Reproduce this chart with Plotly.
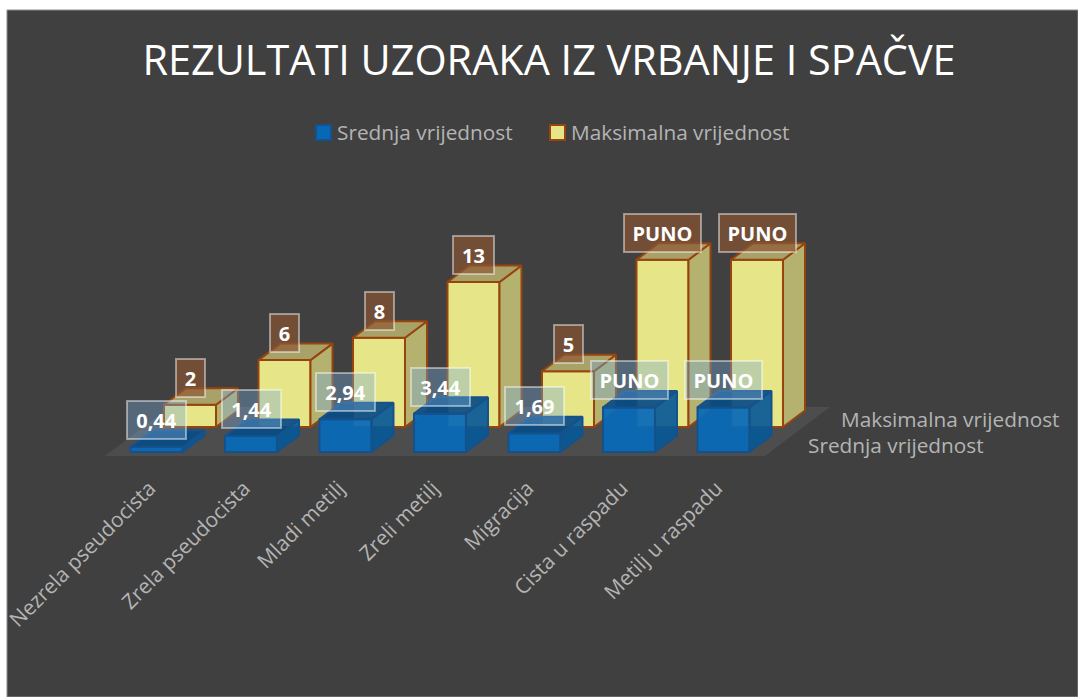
import plotly.graph_objects as go

# ── Data ─────────────────────────────────────────────────────────────────────

categories = ["Nezrela pseudocista", "Zrela pseudocista", "Mladi metilj", "Zreli metilj",
              "Migracija", "Cista u raspadu", "Metilj u raspadu"]
# "PUNO" has no number in the source, the bar heights are read off the picture
mean_values = [0.44, 1.44, 2.94, 3.44, 1.69, 4, 4]
mean_labels = ["0,44", "1,44", "2,94", "3,44", "1,69", "PUNO", "PUNO"]
max_values = [2, 6, 8, 13, 5, 15, 15]
max_labels = ["2", "6", "8", "13", "5", "PUNO", "PUNO"]

# ── Layout constants ─────────────────────────────────────────────────────────

W, H = 1078, 697
LEFT, TOP = 7, 10
PX_X = 94.5    # pixels per category
PX_Y = 11.15   # pixels per value unit
BAR_W = 0.55
DEPTH_X = 22 / PX_X
DEPTH_Y = 16.5 / PX_Y
TICK_SHIFT = -7 / PX_X
TEXT = "#b4b4b4"
FONT = "Open Sans"
YELLOW_EDGE = "#97440f"
BLUE_EDGE = "#15528c"


def x_range(px_first):
    start = -(px_first - LEFT) / PX_X
    return [start, start + (W - LEFT) / PX_X]


def y_range(px_zero):
    start = -(H - px_zero) / PX_Y
    return [start, start + (H - TOP) / PX_Y]


def paper_x(px):
    return (px - LEFT) / (W - LEFT)


def paper_y(px):
    return (H - px) / (H - TOP)


def add_series(fig, values, name, axes, front, side, top, edge):
    xa, ya = axes
    fig.add_trace(go.Bar(
        x=list(range(len(values))), y=values, width=BAR_W, name=name,
        marker=dict(color=front, line=dict(color=edge, width=2)),
        xaxis=xa, yaxis=ya, hoverinfo="y", showlegend=False,
    ))
    for i, v in enumerate(values):
        l, r = i - BAR_W / 2, i + BAR_W / 2
        faces = [
            ([r, r + DEPTH_X, r + DEPTH_X, r, r], [0, DEPTH_Y, v + DEPTH_Y, v, 0], side),
            ([l, l + DEPTH_X, r + DEPTH_X, r, l], [v, v + DEPTH_Y, v + DEPTH_Y, v, v], top),
        ]
        for xs, ys, color in faces:
            fig.add_trace(go.Scatter(
                x=xs, y=ys, mode="lines", fill="toself", fillcolor=color,
                line=dict(color=edge, width=2), xaxis=xa, yaxis=ya,
                showlegend=False, hoverinfo="skip",
            ))


def add_label(fig, x, y, axes, label, width, bgcolor):
    fig.add_annotation(x=x, y=y, xref=axes[0], yref=axes[1], yshift=27, text=f"<b>{label}</b>",
                       showarrow=False, font=dict(family=FONT, size=20, color="white"),
                       width=width, height=36, bgcolor=bgcolor,
                       bordercolor="rgba(255,255,255,0.45)", borderwidth=2, borderpad=0)


def add_text(fig, px, py, text):
    fig.add_annotation(x=paper_x(px), y=paper_y(py), xref="paper", yref="paper",
                       xanchor="left", yanchor="middle", text=text, showarrow=False,
                       font=dict(family=FONT, size=20.8, color=TEXT))


fig = go.Figure()

# floor goes below the traces, else it hides the back row
fx = [paper_x(p) for p in (105, 765, 830, 170)]
fy = [paper_y(p) for p in (456, 456, 407, 407)]
fig.add_shape(type="path", xref="paper", yref="paper", layer="below",
              path=f"M{fx[0]},{fy[0]} L{fx[1]},{fy[1]} L{fx[2]},{fy[2]} L{fx[3]},{fy[3]} Z",
              fillcolor="#4e4d4d", line=dict(width=0))

add_series(fig, max_values, "Maksimalna vrijednost", ("x", "y"),
           "#e6e688", "#b5b270", "#a8a268", YELLOW_EDGE)
add_series(fig, mean_values, "Srednja vrijednost", ("x2", "y2"),
           "rgba(8,106,184,0.94)", "rgba(8,88,150,0.92)", "rgba(8,76,134,0.92)", BLUE_EDGE)

# ── Value labels ─────────────────────────────────────────────────────────────

for i, (v, label) in enumerate(zip(max_values, max_labels)):
    width = 75 if label == "PUNO" else 39 if len(label) == 2 else 27
    add_label(fig, i, v, ("x", "y"), label, width, "rgba(140,85,50,0.68)")
for i, (v, label) in enumerate(zip(mean_values, mean_labels)):
    width = 75 if label == "PUNO" else 57
    add_label(fig, i, v, ("x2", "y2"), label, width, "rgba(120,170,215,0.38)")

# ── Depth axis labels and legend ─────────────────────────────────────────────

add_text(fig, 839, 419, "Maksimalna vrijednost")
add_text(fig, 806, 445, "Srednja vrijednost")

# plotly's own legend leaves a wide gap after the swatch, so it is drawn by hand
add_text(fig, 335, 132, "Srednja vrijednost")
add_text(fig, 569, 132, "Maksimalna vrijednost")
for px, fill, edge in [(316, "#0868b4", BLUE_EDGE), (550, "#e6e688", YELLOW_EDGE)]:
    fig.add_shape(type="rect", xref="paper", yref="paper",
                  x0=paper_x(px), x1=paper_x(px + 15), y0=paper_y(140), y1=paper_y(125),
                  fillcolor=fill, line=dict(color=edge, width=2))

fig.add_shape(type="rect", xref="paper", yref="paper", x0=0, x1=1, y0=0, y1=1,
              line=dict(color="#8c8c8c", width=1), fillcolor="rgba(0,0,0,0)")

hidden = dict(visible=False)
fig.update_layout(
    width=W, height=H,
    margin=dict(l=LEFT, t=TOP, r=0, b=0, pad=0),
    paper_bgcolor="white", plot_bgcolor="#404040",
    barmode="overlay", showlegend=False,
    title=dict(text="REZULTATI UZORAKA IZ VRBANJE I SPAČVE", x=549 / W, xanchor="center",
               y=1 - 61 / H, yanchor="middle", font=dict(family=FONT, size=41.4, color="white")),
    xaxis=dict(range=x_range(190), **hidden),
    yaxis=dict(range=y_range(427), **hidden),
    xaxis2=dict(range=x_range(156.5), overlaying="x", anchor="free", position=paper_y(471),
                tickmode="array", tickvals=[i + TICK_SHIFT for i in range(len(categories))],
                ticktext=categories, tickangle=-45,
                tickfont=dict(family=FONT, size=20.8, color=TEXT),
                showgrid=False, zeroline=False, showline=False, ticks=""),
    yaxis2=dict(range=y_range(452), overlaying="y", visible=False),
)

# the page's default body margin would push the figure off the window
fig.write_html("out.html", config={"displayModeBar": False},
               post_script="document.body.style.margin = '0';")
